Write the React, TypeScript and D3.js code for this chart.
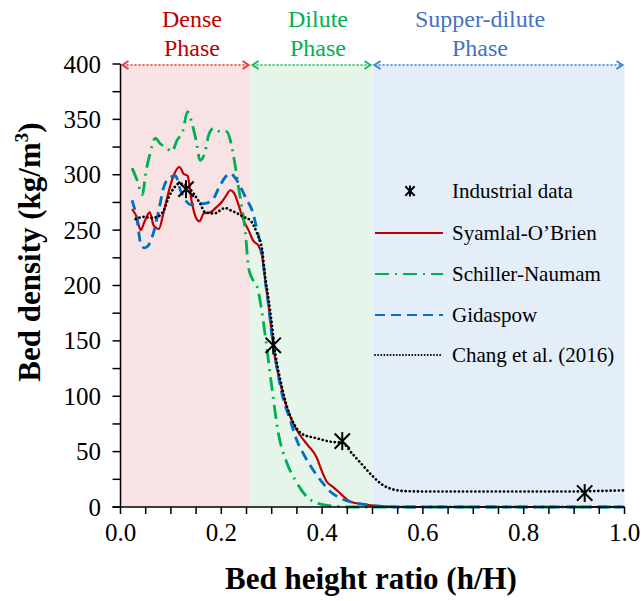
import React from "react";
import * as d3 from "d3";

// Bed height ratio (h/H) vs. bed density (kg/m3)
const syamlalX = [0.023, 0.032, 0.040, 0.048, 0.058, 0.066, 0.076, 0.085, 0.093, 0.100, 0.106, 0.117, 0.125, 0.133, 0.142, 0.150, 0.157, 0.165, 0.178, 0.191, 0.200, 0.208, 0.218, 0.226, 0.234, 0.244, 0.254, 0.264, 0.274, 0.281, 0.287, 0.294, 0.300, 0.307, 0.317, 0.327, 0.340, 0.356, 0.373, 0.389, 0.399, 0.409, 0.422, 0.439, 0.455, 0.480, 0.510, 0.550, 0.700, 0.850, 1.000];
const syamlalY = [269, 262, 250, 258, 266, 254, 251, 265, 280, 292, 300, 307, 301, 299, 274, 261, 258, 265, 266, 271, 275, 280, 286, 283, 273, 259, 250, 240, 236, 226, 205, 181, 157, 133, 112, 94, 78, 65, 55, 45, 33, 23, 18, 11, 5, 2.5, 1, 0, 0, 0, 0];

const schillerX = [0.023, 0.033, 0.043, 0.051, 0.058, 0.069, 0.079, 0.092, 0.102, 0.112, 0.124, 0.133, 0.142, 0.150, 0.158, 0.168, 0.175, 0.185, 0.198, 0.211, 0.218, 0.228, 0.234, 0.241, 0.248, 0.254, 0.264, 0.271, 0.281, 0.290, 0.300, 0.313, 0.330, 0.347, 0.370, 0.393, 0.420, 0.450, 0.700, 0.850, 1.000];
const schillerY = [306, 295, 282, 304, 318, 333, 328, 324, 321, 331, 340, 357, 346, 331, 313, 321, 336, 342, 339, 339, 331, 307, 289, 270, 247, 216, 204, 199, 175, 145, 109, 67, 40, 24, 9, 3, 1, 0, 0, 0, 0];

const gidaspowX = [0.023, 0.033, 0.040, 0.047, 0.053, 0.063, 0.076, 0.086, 0.099, 0.109, 0.119, 0.129, 0.139, 0.152, 0.165, 0.182, 0.195, 0.208, 0.218, 0.228, 0.238, 0.251, 0.261, 0.271, 0.281, 0.287, 0.294, 0.300, 0.310, 0.320, 0.337, 0.350, 0.363, 0.383, 0.399, 0.416, 0.436, 0.462, 0.490, 0.520, 0.550, 0.700, 0.850, 1.000];
const gidaspowY = [277, 259, 238, 234, 235, 244, 268, 289, 298, 299, 286, 277, 273, 274, 274, 277, 288, 298, 301, 297, 289, 277, 268, 250, 229, 205, 181, 157, 127, 103, 78, 60, 48, 33, 23, 14, 8, 4, 2, 0.5, 0, 0, 0, 0];

const changX = [0.030, 0.046, 0.060, 0.073, 0.086, 0.096, 0.106, 0.116, 0.129, 0.145, 0.158, 0.168, 0.185, 0.208, 0.218, 0.228, 0.244, 0.257, 0.271, 0.281, 0.287, 0.294, 0.300, 0.307, 0.317, 0.330, 0.343, 0.360, 0.390, 0.416, 0.440, 0.460, 0.480, 0.500, 0.520, 0.540, 0.560, 0.600, 0.700, 0.800, 0.900, 0.950, 1.000];
const changY = [260, 262, 261, 262, 268, 280, 288, 292, 291, 283, 274, 266, 265, 270, 268, 266, 262, 259, 247, 232, 208, 187, 166, 139, 115, 91, 76, 66, 62, 59, 58, 48, 38, 28, 20, 16, 14.5, 14, 14, 14, 14, 14.5, 15];

const industrialX = [0.13, 0.303, 0.44, 0.921];
const industrialY = [287, 146, 59.5, 12.6];

const phaseBounds = [0, 0.258, 0.5, 1.0];
const phaseNames = [["Dense", "Phase"], ["Dilute", "Phase"], ["Supper-dilute", "Phase"]];

const xTicks = [0, 0.2, 0.4, 0.6, 0.8, 1.0];
const yTicks = [0, 50, 100, 150, 200, 250, 300, 350, 400];

const legendNames = ["Industrial data", "Syamlal-O\u2019Brien", "Schiller-Naumam", "Gidaspow", "Chang et al. (2016)"];

const FONT = "Liberation Serif, DejaVu Serif, Times New Roman, serif";

const xScale = d3.scaleLinear().domain([0, 1]).range([120.5, 624.5]);
const yScale = d3.scaleLinear().domain([0, 400]).range([507, 64]);

const bandFill = ["#f7e3e3", "#e5f5ea", "#e3eef8"];
const phaseText = ["#c00000", "#00b050", "#4472c4"];
const arrowColor = ["#e0403a", "#22b864", "#3a88d4"];
const phaseLabelX = [192, 318, 480];

const DOT = "0.1 4";

const series = [
  { name: legendNames[1], xs: syamlalX, ys: syamlalY, color: "#c00000", width: 2.2, dash: "none" },
  { name: legendNames[2], xs: schillerX, ys: schillerY, color: "#00b050", width: 2.8, dash: "14 6 2 6" },
  { name: legendNames[3], xs: gidaspowX, ys: gidaspowY, color: "#0070c0", width: 2.8, dash: "10 6" },
  { name: legendNames[4], xs: changX, ys: changY, color: "#000000", width: 2.7, dash: DOT },
];

function Star({ cx, cy, r, w }: { cx: number; cy: number; r: number; w: number }) {
  const d = r * 0.85;
  return (
    <g stroke="#000" strokeWidth={w} fill="none">
      <line x1={cx - d} y1={cy - d} x2={cx + d} y2={cy + d} />
      <line x1={cx - d} y1={cy + d} x2={cx + d} y2={cy - d} />
      <line x1={cx} y1={cy - r} x2={cx} y2={cy + r} />
    </g>
  );
}

export default function App() {
  const line = d3
    .line<[number, number]>()
    .x((d) => xScale(d[0]))
    .y((d) => yScale(d[1]))
    .curve(d3.curveMonotoneX);

  const xMinor = d3.range(0, 1.0001, 0.05);
  const yMinor = d3.range(0, 400.001, 25);
  const arrowY = yScale(400) + 1;

  const legendY = [191, 233, 274, 315, 355];

  return (
    <svg
      width={641}
      height={601}
      style={{ position: "absolute", left: 0, top: 0, fontFamily: FONT }}
    >
      <rect x={0} y={0} width={641} height={601} fill="#fff" />
      {/* phase bands */}
      {phaseNames.map((_, i) => (
        <rect
          key={"band" + i}
          x={xScale(phaseBounds[i])}
          y={yScale(400)}
          width={xScale(phaseBounds[i + 1]) - xScale(phaseBounds[i])}
          height={yScale(0) - yScale(400)}
          fill={bandFill[i]}
        />
      ))}
      {/* phase arrows */}
      {phaseNames.map((_, i) => {
        const x0 = xScale(phaseBounds[i]) + 2;
        const x1 = xScale(phaseBounds[i + 1]) - 2;
        return (
          <g key={"arr" + i} stroke={arrowColor[i]} fill="none">
            <line x1={x0} y1={arrowY} x2={x1} y2={arrowY} strokeWidth={1.3} strokeDasharray="2 2" />
            <path d={`M${x0 + 6},${arrowY - 4} L${x0},${arrowY} L${x0 + 6},${arrowY + 4}`} strokeWidth={2} />
            <path d={`M${x1 - 6},${arrowY - 4} L${x1},${arrowY} L${x1 - 6},${arrowY + 4}`} strokeWidth={2} />
          </g>
        );
      })}
      {/* phase labels */}
      {phaseNames.map((lines, i) => (
        <text key={"pl" + i} fill={phaseText[i]} fontSize={24} textAnchor="middle">
          <tspan x={phaseLabelX[i]} y={27}>{lines[0]}</tspan>
          <tspan x={phaseLabelX[i]} y={56}>{lines[1]}</tspan>
        </text>
      ))}

      {/* simulated profiles */}
      {series.map((s) => (
        <path
          key={s.name}
          d={line(s.xs.map((x, i) => [x, s.ys[i]] as [number, number])) || ""}
          fill="none"
          stroke={s.color}
          strokeWidth={s.width}
          strokeDasharray={s.dash}
          strokeLinecap={s.dash === DOT ? "round" : "butt"}
        />
      ))}

      {/* industrial data */}
      {industrialX.map((x, i) => (
        <Star key={"ind" + i} cx={xScale(x)} cy={yScale(industrialY[i])} r={9} w={2} />
      ))}

      {/* axes */}
      <g stroke="#000" strokeWidth={1.5}>
        <line x1={xScale(0)} y1={yScale(0)} x2={xScale(0)} y2={yScale(400)} />
        <line x1={xScale(0) - 8} y1={yScale(0)} x2={xScale(1)} y2={yScale(0)} />
        {yMinor.map((v) => (
          <line key={"yt" + v} x1={xScale(0) - 8} x2={xScale(0)} y1={yScale(v)} y2={yScale(v)} />
        ))}
        {xMinor.map((v) => (
          <line key={"xt" + v} x1={xScale(v)} x2={xScale(v)} y1={yScale(0)} y2={yScale(0) + 7} />
        ))}
      </g>
      {yTicks.map((v) => (
        <text key={"yl" + v} x={101} y={yScale(v) + 8.5} fontSize={25} textAnchor="end" fill="#000">
          {v}
        </text>
      ))}
      {xTicks.map((v) => (
        <text key={"xl" + v} x={xScale(v)} y={541} fontSize={25} textAnchor="middle" fill="#000">
          {v.toFixed(1)}
        </text>
      ))}
      <text x={371} y={589} fontSize={31} fontWeight="bold" textAnchor="middle" fill="#000">
        Bed height ratio (h/H)
      </text>
      <text
        transform={`translate(40,${252}) rotate(-90)`}
        fontSize={31}
        fontWeight="bold"
        textAnchor="middle"
        fill="#000"
      >
        Bed density (kg/m<tspan fontSize={19} dy={-12}>3</tspan><tspan dy={12}>)</tspan>
      </text>

      {/* legend */}
      <g>
        <Star cx={410} cy={legendY[0]} r={5.5} w={2} />
        <text x={452} y={legendY[0] + 7} fontSize={21} fill="#000">{legendNames[0]}</text>
        {series.map((s, i) => (
          <g key={"lg" + i}>
            <line
              x1={375}
              x2={443}
              y1={legendY[i + 1]}
              y2={legendY[i + 1]}
              stroke={s.color}
              strokeWidth={s.dash === DOT ? 1.8 : 2.2}
              strokeDasharray={s.dash === DOT ? "0.1 3" : s.dash}
              strokeLinecap={s.dash === DOT ? "round" : "butt"}
            />
            <text x={452} y={legendY[i + 1] + 7} fontSize={21} fill="#000">{s.name}</text>
          </g>
        ))}
      </g>
    </svg>
  );
}
